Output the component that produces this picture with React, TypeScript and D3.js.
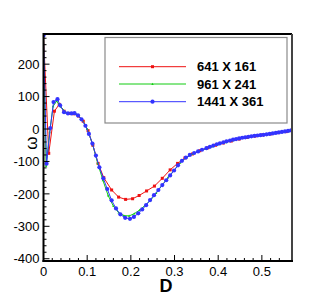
import { useRef, useEffect } from 'react'
import * as d3 from 'd3'

// 641 X 161
const redD = [0, 0.012, 0.025, 0.036, 0.047, 0.058, 0.069, 0.08, 0.091, 0.102, 0.113, 0.125, 0.138, 0.156, 0.172, 0.188, 0.204, 0.219, 0.236, 0.254, 0.272, 0.29, 0.307, 0.324, 0.341, 0.358, 0.376, 0.394, 0.412, 0.43, 0.448, 0.466, 0.484, 0.502, 0.52, 0.538, 0.556, 0.569]
const redW = [288, -75, 55, 76, 55, 48, 47, 40, 24, -5, -50, -106, -150, -188, -210, -217, -215, -205, -191, -176, -152, -126, -106, -89, -77, -67, -58, -50, -43, -37, -31, -26, -22, -18, -15, -11, -8, -5]

// 961 X 241
const greenD = [0, 0.006, 0.014, 0.022, 0.03, 0.04, 0.052, 0.064, 0.076, 0.088, 0.1, 0.112, 0.124, 0.136, 0.148, 0.16, 0.172, 0.184, 0.196, 0.208, 0.22, 0.232, 0.245, 0.258, 0.271, 0.285, 0.299, 0.313, 0.327, 0.341, 0.356, 0.371, 0.386, 0.402, 0.418, 0.434, 0.45, 0.466, 0.482, 0.498, 0.514, 0.53, 0.546, 0.562, 0.569]
const greenW = [288, -115, -10, 70, 86, 68, 50, 48, 45, 30, 0, -45, -105, -158, -205, -238, -258, -267, -268, -261, -250, -236, -220, -198, -174, -150, -127, -104, -88, -77, -68, -61, -54, -47, -41, -35, -30, -26, -22, -19, -16, -13, -10, -7, -5]

// 1441 X 361
const blueD = [0, 0.007, 0.0156, 0.023, 0.032, 0.038, 0.047, 0.056, 0.064, 0.071, 0.079, 0.087, 0.096, 0.104, 0.112, 0.12, 0.128, 0.137, 0.146, 0.156, 0.166, 0.176, 0.187, 0.198, 0.207, 0.217, 0.226, 0.235, 0.244, 0.253, 0.263, 0.272, 0.281, 0.29, 0.299, 0.308, 0.317, 0.326, 0.335, 0.345, 0.354, 0.363, 0.373, 0.381, 0.389, 0.397, 0.404, 0.412, 0.419, 0.427, 0.434, 0.441, 0.448, 0.455, 0.462, 0.469, 0.476, 0.483, 0.49, 0.497, 0.504, 0.511, 0.518, 0.525, 0.532, 0.539, 0.546, 0.553, 0.56, 0.567]
const blueW = [288, -107, 3, 83, 92, 73, 52, 48, 48, 49, 42, 30, 10, -15, -45, -82, -118, -152, -185, -220, -245, -263, -274, -277, -271, -260, -248, -235, -219, -204, -188, -173, -158, -143, -128, -112, -98, -88, -80, -74, -69, -64, -59, -55, -51, -47, -44, -41, -38, -35.5, -33, -31, -29, -27, -25.5, -24, -22.5, -21, -20, -19, -18, -16.5, -15, -13.5, -12, -10.5, -9, -7.5, -6, -4]

const seriesNames = ['641 X 161', '961 X 241', '1441 X 361']
const yMajor = [-400, -300, -200, -100, 0, 100, 200]
const xMajor = [0, 0.1, 0.2, 0.3, 0.4, 0.5]

const App = () => {
  const svgRef = useRef<SVGSVGElement>(null)

  useEffect(() => {
    const svg = d3.select(svgRef.current)
    svg.selectAll('*').remove()

    const left = 43.5, right = 292, top = 34, bottom = 261
    const x = d3.scaleLinear().domain([0, 0.569]).range([left, right])
    const y = d3.scaleLinear().domain([-407, 293]).range([bottom, top])
    const font = 'Arial, "Liberation Sans", Helvetica, sans-serif'

    svg.append('defs').append('clipPath').attr('id', 'plotclip')
      .append('rect').attr('x', left).attr('y', top - 2)
      .attr('width', right - left).attr('height', bottom - top + 2)

    // legend box drawn under the curves
    const legend = svg.append('g')
    legend.append('rect')
      .attr('x', 105).attr('y', 37.5).attr('width', 182).attr('height', 85.5)
      .attr('fill', '#fff').attr('stroke', '#8a8a8a').attr('stroke-width', 1.2)

    const series = [
      { d: redD, w: redW, color: '#ee1111', marker: 'square', size: 3 },
      { d: greenD, w: greenW, color: '#11cc11', marker: 'tri', size: 2 },
      { d: blueD, w: blueW, color: '#3333ff', marker: 'circle', size: 2.1 },
    ]

    const plot = svg.append('g').attr('clip-path', 'url(#plotclip)')
    const line = d3.line<[number, number]>().x(p => x(p[0])).y(p => y(p[1]))

    const drawMarker = (g: any, cx: number, cy: number, s: any) => {
      if (s.marker === 'square') {
        g.append('rect').attr('x', cx - s.size / 2).attr('y', cy - s.size / 2)
          .attr('width', s.size).attr('height', s.size).attr('fill', s.color)
      } else if (s.marker === 'tri') {
        g.append('path')
          .attr('d', `M${cx},${cy - 1.3}L${cx + 1.2},${cy + 0.9}L${cx - 1.2},${cy + 0.9}Z`)
          .attr('fill', s.color)
      } else {
        g.append('circle').attr('cx', cx).attr('cy', cy).attr('r', s.size).attr('fill', s.color)
      }
    }

    series.forEach((s, k) => {
      const pts = s.d.map((d, i) => [d, s.w[i]] as [number, number])
      plot.append('path').attr('d', line(pts)!)
        .attr('fill', 'none').attr('stroke', s.color).attr('stroke-width', 1)
      pts.forEach(p => drawMarker(plot, x(p[0]), y(p[1]), s))

      const ly = [66.7, 84, 101.7][k]
      legend.append('line').attr('x1', 119).attr('x2', 186).attr('y1', ly).attr('y2', ly)
        .attr('stroke', s.color).attr('stroke-width', 1)
      drawMarker(legend, 152.5, ly, s)
      legend.append('text').attr('x', 197).attr('y', ly).attr('dy', '0.36em')
        .attr('font-family', font).attr('font-size', 13).attr('font-weight', 'bold')
        .text(seriesNames[k])
    })

    // frame
    svg.append('line').attr('x1', left).attr('x2', right).attr('y1', top).attr('y2', top)
      .attr('stroke', '#000').attr('stroke-width', 2)
    svg.append('line').attr('x1', right).attr('x2', right).attr('y1', top).attr('y2', bottom)
      .attr('stroke', '#444').attr('stroke-width', 2)
    svg.append('line').attr('x1', left).attr('x2', left).attr('y1', top - 1).attr('y2', bottom + 1)
      .attr('stroke', '#000').attr('stroke-width', 2)
    svg.append('line').attr('x1', left - 1).attr('x2', right + 1).attr('y1', bottom).attr('y2', bottom)
      .attr('stroke', '#000').attr('stroke-width', 2)

    // y ticks, inward
    const yMinor = d3.range(-400, 293, 20)
    yMinor.forEach(v => {
      const major = v % 100 === 0
      svg.append('line').attr('x1', left).attr('x2', left + (major ? 6 : 3))
        .attr('y1', y(v)).attr('y2', y(v)).attr('stroke', '#000').attr('stroke-width', 1)
    })
    yMajor.forEach(v => {
      svg.append('text').attr('x', left - 4).attr('y', y(v)).attr('dy', '0.36em')
        .attr('text-anchor', 'end').attr('font-family', font).attr('font-size', 13)
        .text(String(v))
    })

    // x ticks, inward
    const xMinor = d3.range(0, 28).map(i => i * 0.02)
    xMinor.forEach((v, i) => {
      const major = i % 5 === 0
      svg.append('line').attr('x1', x(v)).attr('x2', x(v))
        .attr('y1', bottom).attr('y2', bottom - (major ? 6 : 3))
        .attr('stroke', '#000').attr('stroke-width', 1)
    })
    xMajor.forEach(v => {
      svg.append('text').attr('x', x(v)).attr('y', 276)
        .attr('text-anchor', 'middle').attr('font-family', font).attr('font-size', 13)
        .text(v === 0 ? '0' : String(v))
    })

    svg.append('text').attr('x', 166).attr('y', 292).attr('text-anchor', 'middle')
      .attr('font-family', font).attr('font-size', 18).attr('font-weight', 'bold').text('D')
    svg.append('text').attr('transform', 'translate(31,143) rotate(-90)')
      .attr('text-anchor', 'middle').attr('dy', '0.35em')
      .attr('font-family', font).attr('font-size', 17).text('ω')
  }, [])

  return (
    <svg ref={svgRef} width={332} height={296}
      style={{ position: 'absolute', left: 0, top: 0, background: '#fff' }} />
  )
}

export default App
